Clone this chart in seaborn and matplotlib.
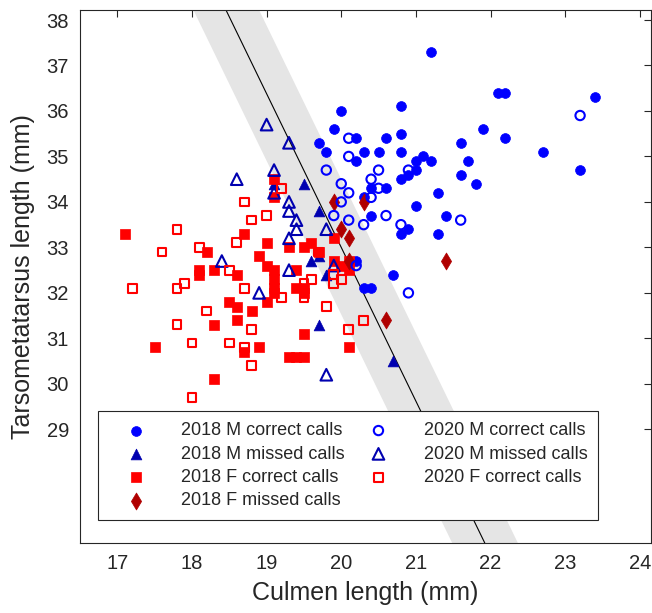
import numpy as np
import matplotlib
matplotlib.use("Agg")
import matplotlib.pyplot as plt
import seaborn as sns

# ---- data (culmen, tarsometatarsus) ----
m18_ok_x = [21.2, 22.1, 22.2, 23.4, 20.0, 20.8, 19.9, 21.9, 20.8, 20.6, 20.2, 22.2, 21.6, 19.7, 20.3,
            20.5, 20.8, 19.8, 22.7, 21.1, 20.2, 21.0, 21.2, 21.7, 21.0, 20.9, 20.8, 21.6, 21.8, 23.2,
            21.3, 20.4, 20.6, 20.3, 20.4, 21.0, 21.4, 20.8, 20.9, 21.3, 20.7, 20.3, 20.4, 20.2]
m18_ok_y = [37.3, 36.4, 36.4, 36.3, 36.0, 36.1, 35.6, 35.6, 35.5, 35.4, 35.4, 35.4, 35.3, 35.3, 35.1,
            35.1, 35.1, 35.1, 35.1, 35.0, 34.9, 34.9, 34.9, 34.9, 34.7, 34.6, 34.5, 34.6, 34.4, 34.7,
            34.2, 34.3, 34.3, 34.1, 33.7, 33.9, 33.7, 33.3, 33.4, 33.3, 32.4, 32.1, 32.1, 32.7]

m18_miss_x = [19.5, 19.7, 19.1, 19.6, 19.8, 19.7, 19.7, 20.7]
m18_miss_y = [34.4, 33.8, 34.4, 32.7, 32.4, 32.8, 31.3, 30.5]

f18_ok_x = [17.1, 19.1, 19.1, 18.7, 19.0, 19.3, 19.5, 19.6, 19.9, 18.2, 18.9, 19.0, 19.1, 19.1, 19.1,
            19.1, 18.1, 18.1, 18.3, 18.6, 19.4, 19.4, 19.5, 19.5, 19.0, 18.5, 18.6, 18.8, 18.3, 18.6,
            19.5, 17.5, 18.7, 18.9, 19.3, 19.4, 19.5, 18.3, 20.1, 19.7, 20.0, 20.1, 20.1, 19.9]
f18_ok_y = [33.3, 34.5, 34.1, 33.3, 33.1, 33.0, 33.0, 33.1, 33.2, 32.9, 32.8, 32.6, 32.5, 32.3, 32.1,
            32.0, 32.5, 32.4, 32.5, 32.4, 32.5, 32.1, 32.1, 32.0, 31.8, 31.8, 31.7, 31.6, 31.3, 31.4,
            31.1, 30.8, 30.7, 30.8, 30.6, 30.6, 30.6, 30.1, 30.8, 32.9, 32.6, 32.7, 32.5, 32.7]

f18_miss_x = [19.9, 20.3, 20.0, 20.1, 20.1, 21.4, 20.6]
f18_miss_y = [34.0, 34.0, 33.4, 33.2, 32.7, 32.7, 31.4]

m20_ok_x = [23.2, 20.1, 20.1, 20.9, 19.8, 20.0, 20.1, 20.0, 19.9, 20.1, 20.3, 20.4, 20.5, 20.5,
            20.4, 20.6, 20.8, 21.6, 20.9, 20.2]
m20_ok_y = [35.9, 35.4, 35.0, 34.7, 34.7, 34.4, 34.2, 34.0, 33.7, 33.6, 33.5, 34.5, 34.7, 34.3,
            34.1, 33.7, 33.5, 33.6, 32.0, 32.6]

m20_miss_x = [19.0, 19.3, 19.1, 18.6, 19.1, 19.3, 19.3, 19.4, 19.4, 19.3, 19.8, 18.4, 19.3, 19.9,
              18.9, 19.8]
m20_miss_y = [35.7, 35.3, 34.7, 34.5, 34.2, 34.0, 33.8, 33.6, 33.4, 33.2, 33.4, 32.7, 32.5, 32.6,
              32.0, 30.2]

f20_ok_x = [19.2, 18.7, 19.0, 18.8, 17.8, 18.6, 18.1, 17.6, 18.5, 19.7, 19.9, 19.9, 20.0, 19.6,
            19.5, 17.2, 17.8, 17.9, 18.7, 19.2, 19.5, 19.8, 18.2, 18.8, 17.8, 18.0, 18.5, 18.7,
            18.8, 18.0, 20.1, 20.3]
f20_ok_y = [34.3, 34.0, 33.7, 33.6, 33.4, 33.1, 33.0, 32.9, 32.5, 32.9, 32.4, 32.2, 32.3, 32.3,
            32.2, 32.1, 32.1, 32.2, 32.1, 31.9, 31.9, 31.7, 31.6, 31.2, 31.3, 30.9, 30.9, 30.8,
            30.4, 29.7, 31.2, 31.4]

# discriminant line: tarsus = line_a + line_b * culmen, band = +/- band_dx in culmen
line_a = 100.6
line_b = -3.38
band_dx = 0.44

x_ticks = [17, 18, 19, 20, 21, 22, 23, 24]
y_ticks = [29, 30, 31, 32, 33, 34, 35, 36, 37, 38]

sns.set_style("white")
plt.rcParams['font.family'] = ['Liberation Sans', 'DejaVu Sans']
txt = '#262626'

fig = plt.figure(figsize=(6.52, 6.13), dpi=100)
ax = fig.add_axes([80 / 652, 70 / 613, 571 / 652, 533 / 613])
xlim = (16.5, 24.15)
ylim = (26.5, 38.22)

# band + line
yy = np.linspace(ylim[0], ylim[1], 50)
xx = (yy - line_a) / line_b
ax.fill_betweenx(yy, xx - band_dx, xx + band_dx, color='#e5e5e5', lw=0, zorder=1)
ax.plot(xx, yy, color='black', lw=0.8, zorder=2)

blue = '#0000ff'
navy = '#0000b0'
red = '#ff0000'
dred = '#b00000'

groups = [
    (m18_ok_x, m18_ok_y, 'o', 50, blue, True, '2018 M correct calls'),
    (m18_miss_x, m18_miss_y, '^', 60, navy, True, '2018 M missed calls'),
    (f18_ok_x, f18_ok_y, 's', 42, red, True, '2018 F correct calls'),
    (f18_miss_x, f18_miss_y, 'd', 75, dred, True, '2018 F missed calls'),
    (m20_ok_x, m20_ok_y, 'o', 45, blue, False, '2020 M correct calls'),
    (m20_miss_x, m20_miss_y, '^', 70, navy, False, '2020 M missed calls'),
    (f20_ok_x, f20_ok_y, 's', 40, red, False, '2020 F correct calls'),
]
for gx, gy, mk, sz, col, filled, lab in groups:
    if filled:
        sns.scatterplot(x=gx, y=gy, marker=mk, s=sz, color=col, edgecolor=col,
                        linewidth=0.5, label=lab, ax=ax, zorder=3)
    else:
        sns.scatterplot(x=gx, y=gy, marker=mk, s=sz, facecolor='none', edgecolor=col,
                        linewidth=1.5, label=lab, ax=ax, zorder=3)

ax.set_xlim(*xlim)
ax.set_ylim(*ylim)
ax.set_xticks(x_ticks)
ax.set_yticks(y_ticks)
ax.tick_params(direction='in', length=5, width=0.8, colors=txt, labelsize=14.5,
               top=True, right=True, labeltop=False, labelright=False, pad=8)
for s in ax.spines.values():
    s.set_visible(True)
    s.set_color(txt)
    s.set_linewidth(0.8)

ax.set_xlabel('Culmen length (mm)', fontsize=18, color=txt, labelpad=6)
ax.set_ylabel('Tarsometatarsus length (mm)', fontsize=18, color=txt, labelpad=8)

leg = ax.legend(loc='lower left', bbox_to_anchor=(0.0315, 0.043, 0.876, 0.203),
                mode='expand', ncol=2, fontsize=13, frameon=True, fancybox=False,
                framealpha=1, edgecolor=txt, labelspacing=0.35, handletextpad=1.0,
                handlelength=3.0, borderpad=0.6, borderaxespad=0)
leg.get_frame().set_linewidth(0.8)
leg.set_zorder(5)
for t in leg.get_texts():
    t.set_color(txt)

fig.savefig('out.png', dpi=100)
